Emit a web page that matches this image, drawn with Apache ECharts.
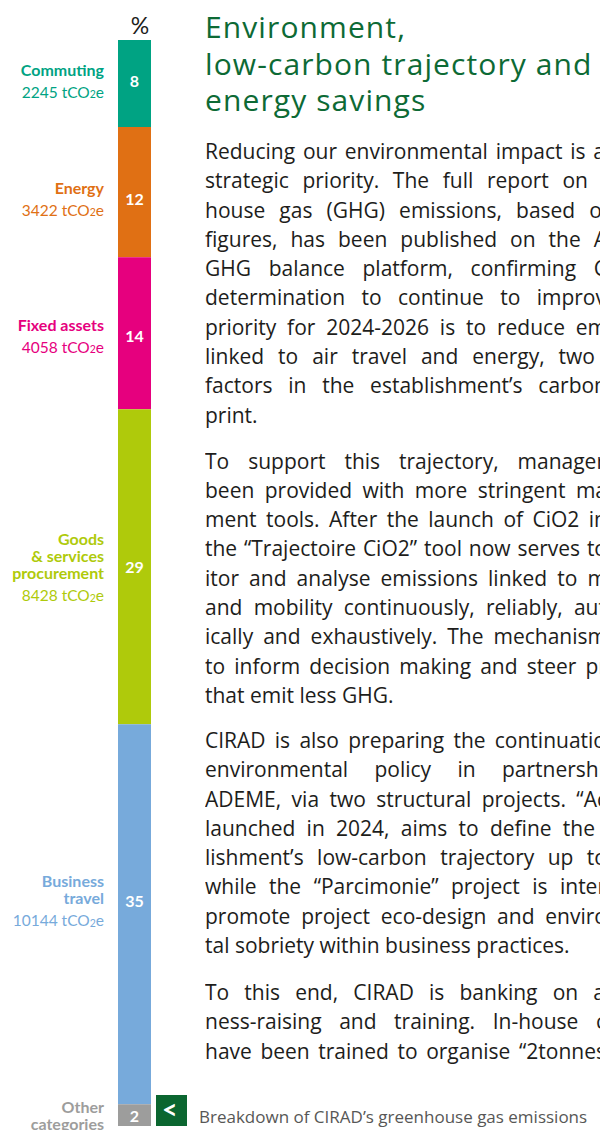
<!DOCTYPE html>
<html>
<head>
<meta charset="utf-8">
<script src="https://cdn.jsdelivr.net/npm/echarts@6/dist/echarts.min.js"></script>
<style>
html,body{margin:0;padding:0;background:#fff;}
#chart{position:absolute;left:0;top:0;width:600px;height:1130px;}
#article{position:absolute;left:205px;top:0;width:395px;height:1130px;overflow:hidden;font-family:'Open Sans',Lato,sans-serif;color:#1d1d1b;pointer-events:none;}
#article h1{position:absolute;left:0;top:9px;margin:0;font-weight:normal;font-size:30px;letter-spacing:1.1px;line-height:36.5px;color:#0d6a35;white-space:nowrap;}
.para{position:absolute;left:0;font-size:21px;line-height:29.3px;}
.ln{white-space:nowrap;text-align:justify;text-align-last:justify;}
.ln.last{text-align:left;text-align-last:left;}
</style>
</head>
<body>
<div id="chart"></div>
<div id="article">
  <h1>Environment,<br>low-carbon trajectory and<br>energy savings</h1>
  <div id="paras"></div>
</div>
<script>
// ---- chart data ----
const categories = ['Commuting', 'Energy', 'Fixed assets', 'Goods\n& services\nprocurement', 'Business\ntravel', 'Other\ncategories'];
const shares = [8, 12, 14, 29, 35, 2];            // % of total emissions
const emissions = [2245, 3422, 4058, 8428, 10144, null]; // tCO2e
const unitLabel = '%';
const caption = 'Breakdown of CIRAD’s greenhouse gas emissions';

// ---- styles ----
const colors = ['#00a383', '#e07014', '#e6007e', '#afca0b', '#77aadb', '#9d9d9c'];
const labelShift = [-3, 6, 2, 0, -14, 0];
const FONT = 'Lato';

// ---- article text (page layout, not chart data) ----
const paragraphs = [
  {top: 137, lines: [
    ['Reducing our environmental impact is a', 400],
    ['strategic priority. The full report on', 383],
    ['house gas (GHG) emissions, based o', 397],
    ['figures, has been published on the A', 402],
    ['GHG balance platform, confirming C', 402],
    ['determination to continue to improv', 401],
    ['priority for 2024-2026 is to reduce em', 402],
    ['linked to air travel and energy, two', 390],
    ['factors in the establishment’s carbon', 402],
    ['print.', 0]]},
  {top: 446.5, lines: [
    ['To support this trajectory, manager', 400],
    ['been provided with more stringent ma', 402],
    ['ment tools. After the launch of CiO2 in', 402],
    ['the “Trajectoire CiO2” tool now serves to', 402],
    ['itor and analyse emissions linked to m', 402],
    ['and mobility continuously, reliably, aut', 401],
    ['ically and exhaustively. The mechanism', 402],
    ['to inform decision making and steer pr', 402],
    ['that emit less GHG.', 0]]},
  {top: 726, lines: [
    ['CIRAD is also preparing the continuatio', 401],
    ['environmental policy in partnershi', 399],
    ['ADEME, via two structural projects. “Ac', 402],
    ['launched in 2024, aims to define the', 390],
    ['lishment’s low-carbon trajectory up to', 402],
    ['while the “Parcimonie” project is inter', 401],
    ['promote project eco-design and enviro', 402],
    ['tal sobriety within business practices.', 0]]},
  {top: 978, lines: [
    ['To this end, CIRAD is banking on a', 400],
    ['ness-raising and training. In-house c', 401],
    ['have been trained to organise “2tonnes', 401]]}
];
const parasEl = document.getElementById('paras');
paragraphs.forEach(p => {
  const d = document.createElement('div');
  d.className = 'para';
  d.style.top = p.top + 'px';
  p.lines.forEach(([t, w]) => {
    const l = document.createElement('div');
    l.className = 'ln' + (w ? '' : ' last');
    if (w) l.style.width = w + 'px';
    l.textContent = t;
    d.appendChild(l);
  });
  parasEl.appendChild(d);
});

// ---- chart ----
const chart = echarts.init(document.getElementById('chart'), null, {renderer: 'svg'});
const series = [];
categories.forEach((name, i) => {
  series.push({
    type: 'bar', name: name.replace(/\n/g, ' '), stack: 'bars', xAxisIndex: 0,
    data: [shares[i]], barWidth: '100%', silent: true,
    itemStyle: {color: colors[i]},
    label: {show: true, position: 'inside', color: '#fff', fontFamily: FONT, fontWeight: 'bold', fontSize: 16,
            offset: [0, labelShift[i]], formatter: '{c}'}
  });
  const rich = {
    n: {fontFamily: FONT, fontWeight: 'bold', fontSize: 16, lineHeight: 17, color: colors[i], align: 'right'},
    v: {fontFamily: FONT, fontSize: 15.5, lineHeight: 22, color: colors[i], align: 'right', verticalAlign: 'bottom'},
    s: {fontFamily: FONT, fontSize: 10.5, lineHeight: 13, color: colors[i], align: 'right', verticalAlign: 'bottom'}
  };
  series.push({
    type: 'bar', name: name.replace(/\n/g, ' ') + ' label', stack: 'labels', xAxisIndex: 1,
    data: [shares[i]], barWidth: '100%', silent: true,
    itemStyle: {color: 'rgba(0,0,0,0)'},
    label: {show: true, position: 'left', distance: 14, align: 'right', offset: [0, labelShift[i]], rich: rich,
      formatter: () => {
        let s = name.split('\n').map(l => '{n|' + l + '}').join('\n');
        if (emissions[i] != null) s += '\n{v|' + emissions[i] + ' tCO}{s|2}{v|e}';
        return s;
      }}
  });
});

chart.setOption({
  animation: false,
  title: {text: unitLabel, left: 135, top: 8, textAlign: 'center',
          textStyle: {fontFamily: FONT, fontWeight: 'normal', fontSize: 23, color: '#1d1d1b'}},
  grid: {left: 118, width: 33, top: 40, bottom: 4},
  xAxis: [
    {type: 'category', data: ['CIRAD'], show: false},
    {type: 'category', data: ['CIRAD'], show: false}
  ],
  yAxis: {type: 'value', inverse: true, min: 0, max: 100, show: false},
  series: series,
  graphic: [
    {type: 'rect', left: 156, top: 1095, shape: {width: 31, height: 31}, style: {fill: '#0b6630'}},
    {type: 'text', left: 162, top: 1095, style: {text: '<', fill: '#fff', font: 'bold 27px Lato'}},
    {type: 'text', left: 199, top: 1108, style: {text: caption, fill: '#575756', font: '17px "Open Sans"'}}
  ]
});
</script>
</body>
</html>
